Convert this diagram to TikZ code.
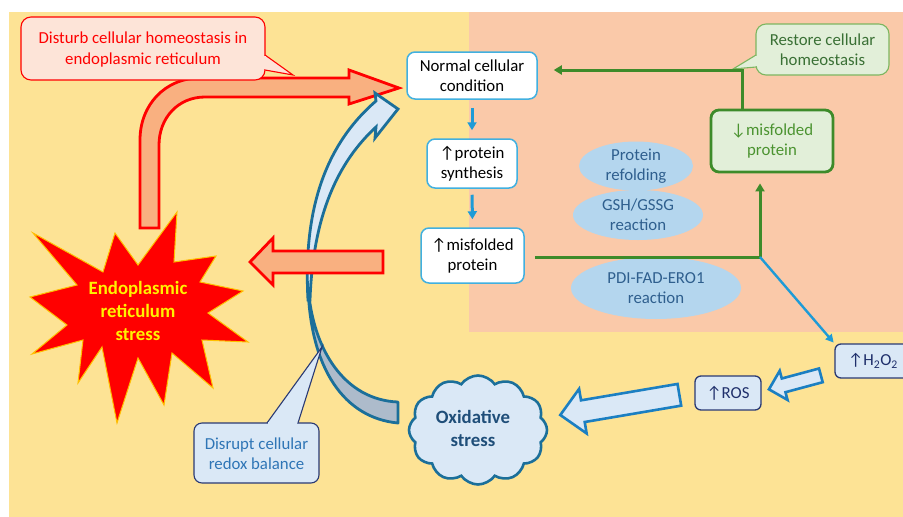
\documentclass[tikz,border=0pt]{standalone}
\usepackage{fontspec}
\setmainfont{Carlito}
\usetikzlibrary{arrows.meta,shapes.symbols,shapes.geometric,calc}
\definecolor{bgy}{HTML}{FDE395}
\definecolor{salm}{HTML}{FAC9A9}
\definecolor{orng}{HTML}{F9B080}
\definecolor{pinkf}{HTML}{FDE4D8}
\definecolor{lblue}{HTML}{DAE8F6}
\definecolor{greyb}{HTML}{ADBBCB}
\definecolor{cblue}{HTML}{1B6F9A}
\definecolor{hblue}{HTML}{1B7FC2}
\definecolor{boxb}{HTML}{41B0E0}
\definecolor{sblue}{HTML}{1E9BD7}
\definecolor{ellf}{HTML}{B4D6EE}
\definecolor{ellt}{HTML}{2F5F8E}
\definecolor{navy}{HTML}{2A3A74}
\definecolor{navyt}{HTML}{1F2F6B}
\definecolor{grn}{HTML}{3D8B2A}
\definecolor{grnf}{HTML}{E2EFD9}
\definecolor{grnt}{HTML}{4B9330}
\definecolor{grnd}{HTML}{3A7035}
\definecolor{grnl}{HTML}{7DB660}
\definecolor{starb}{HTML}{FFC000}
\definecolor{dist}{HTML}{2E75B6}
\definecolor{oxt}{HTML}{1F4E79}
\newcommand\fsz{\fontsize{16.8}{20.2}\selectfont}
\newcommand\bfsz{\fontsize{18.8}{23}\selectfont\bfseries}
\newcommand\hollowarrow[5]{%
 \coordinate (hb) at ($(#2)!#5!(#1)$);
 \filldraw[harrow] ($(#1)!#3!90:(#2)$) -- ($(hb)!#3!-90:(#1)$) -- ($(hb)!#4!-90:(#1)$) -- (#2) -- ($(hb)!#4!90:(#1)$) -- ($(hb)!#3!90:(#1)$) -- ($(#1)!#3!-90:(#2)$) -- cycle;}
\begin{document}
\begin{tikzpicture}[x=1pt,y=-1pt,
  wbox/.style={draw=boxb, fill=white, rounded corners=8pt, line width=1.5pt, align=center, inner sep=0pt, font=\fsz},
  nbox/.style={draw=navy, fill=lblue, rounded corners=6pt, line width=1.3pt, align=center, inner sep=0pt, font=\fsz, text=navyt},
  gbox/.style={draw=grn, fill=grnf, rounded corners=8pt, line width=2.8pt, align=center, inner sep=0pt, font=\fsz, text=grnt},
  ell/.style={ellipse, fill=ellf, align=center, inner sep=0pt, font=\fsz, text=ellt},
  barrow/.style={draw=sblue, line width=3pt, -{Triangle[width=9pt,length=8pt]}},
  garrow/.style={draw=grn, line width=3pt, -{Triangle[width=9pt,length=8pt]}},
  gline/.style={draw=grn, line width=3pt},
  harrow/.style={fill=lblue, draw=hblue, line width=2.6pt, line join=miter},
  txt/.style={align=center, inner sep=0pt, font=\fsz}]
\useasboundingbox (0,0) rectangle (903,517);
\clip (0,0) rectangle (903,517);
\fill[white] (0,0) rectangle (903,517);
\fill[bgy] (9,12) rectangle (903,517);
\fill[salm] (469,12) rectangle (903,332);

% red bent arrow
\filldraw[fill=orng, draw=red, line width=2.8pt, line join=miter]
 (140,228) -- (140,140) .. controls (140,105) and (165,78) .. (200,78) -- (349,78) -- (349,70) -- (399,88)
 -- (349,104) -- (349,97) -- (205,97) .. controls (178,97) and (159,118) .. (159,145) -- (159,228) -- cycle;

% red callout
\filldraw[fill=pinkf, draw=red, line width=1.1pt, rounded corners=10pt] (21,17) rectangle (265,80);
\filldraw[fill=pinkf, draw=red, line width=1.1pt, line join=miter] (265,55) -- (293,75) -- (265,70);
\fill[pinkf] (264.2,55.9) rectangle (265.9,69.1);
\node[txt, text=red] (disturb) at (143,49.5) {Disturb cellular homeostasis in\\endoplasmic reticulum};

% blue curved arrow
\filldraw[fill=greyb, draw=cblue, line width=2.8pt, line join=round]
 (398,423) .. controls (345,418) and (310,370) .. (308,285) .. controls (312,350) and (345,400) .. (398,402) -- cycle;
\filldraw[fill=lblue, draw=cblue, line width=2.8pt, line join=miter]
 (308,300) .. controls (303,210) and (325,145) .. (376,101) -- (375,93) -- (398,109) -- (375,138) -- (376,127)
 .. controls (338,162) and (313,215) .. (310,300) -- cycle;

% orange left arrow
\filldraw[fill=orng, draw=red, line width=2.8pt, line join=miter]
 (383,251) -- (273,251) -- (273,238) -- (250,262) -- (273,285) -- (273,273) -- (383,273) -- cycle;

% star
\filldraw[fill=red, draw=starb, line width=1pt, line join=miter]
 (33,233) -- (103,272) -- (115,233) -- (138,265) -- (177,212) -- (174,262) -- (216,256) -- (200,282)
 -- (243,291) -- (208,313) -- (248,342) -- (202,340) -- (213,388) -- (172,353) -- (164,405) -- (138,358)
 -- (117,423) -- (102,347) -- (78,383) -- (83,340) -- (32,354) -- (67,325) -- (30,297) -- (77,285) -- cycle;
\node[align=center, inner sep=0pt, font=\bfsz, text=yellow] (ers) at (138,311) {Endoplasmic\\reticulum\\stress};

% main boxes
\node[wbox, minimum width=130, minimum height=47] (normal) at (472,75.5) {Normal cellular\\condition};
\node[wbox, minimum width=90, minimum height=49] (synth) at (472,163.5) {↑protein\\synthesis};
\node[wbox, minimum width=103, minimum height=55] (misf) at (472.5,255.5) {↑misfolded\\protein};
\draw[barrow, shorten <=8pt, shorten >=8pt] (normal.south) -- (synth.north);
\draw[barrow, shorten <=6pt, shorten >=8pt] (synth.south) -- (misf.north);

% ellipses
\node[ell, minimum width=114, minimum height=48] (e1) at (636,166) {Protein\\refolding};
\node[ell, minimum width=130, minimum height=50] (e2) at (638,215) {GSH/GSSG\\reaction};
\node[ell, minimum width=170, minimum height=62] (e3) at (656,288) {PDI-FAD-ERO1\\reaction};

% green box & restore callout
\node[gbox, minimum width=122, minimum height=62] (dmisf) at (772,141) {↓misfolded\\protein};
\filldraw[fill=grnf, draw=grnl, line width=1.1pt, rounded corners=10pt] (756,24) rectangle (889,75);
\filldraw[fill=grnf, draw=grnl, line width=1.1pt, line join=miter] (756,55) -- (733,69) -- (756,67);
\fill[grnf] (755.2,55.9) rectangle (756.9,66.1);
\node[txt, text=grnd] (restore) at (822.5,49.5) {Restore cellular\\homeostasis};

\coordinate (J) at (760,257);
\coordinate (K) at (742,70);
\draw[gline] ($(misf.east)+(10,1.5)$) -- ([xshift=1.5pt]J);
\draw[garrow, shorten >=10pt] ([yshift=-1.5pt]J) -- (J |- dmisf.south);
\draw[gline] (dmisf.north -| K) -- ([yshift=-1.5pt]K);
\draw[garrow, shorten >=16pt] ([xshift=1.5pt]K) -- (normal.east |- K);

% H2O2, ROS
\node[nbox, minimum width=76, minimum height=34] (h2o2) at (873,361) {↑H\textsubscript{2}O\textsubscript{2}};
\node[nbox, minimum width=66, minimum height=34] (ros) at (728,393) {↑ROS};
\draw[draw=sblue, line width=2.4pt, -{Triangle[width=8pt,length=8pt]}, shorten >=1pt] (J) -- (h2o2.north west);

% cloud
\node[cloud, cloud puffs=12, cloud puff arc=110, aspect=1.3, draw=cblue, fill=lblue, line width=2.6pt,
      minimum width=138, minimum height=109, inner sep=0pt] (ox) at (478,430) {};
\node[align=center, inner sep=0pt, font=\bfsz, text=oxt] (oxt) at (473,428.5) {Oxidative\\stress};

% hollow arrows
\coordinate (t1) at ($(h2o2.south west)+(-13.5,-3.3)$);
\coordinate (p1) at ($(ros.east)+(7.3,-3.7)$);
\hollowarrow{t1}{p1}{7.1pt}{15.1pt}{15.2pt}
\coordinate (t2) at ($(ros.west)+(-15,1.8)$);
\coordinate (p2) at ($(ox.east)+(12,-15)$);
\hollowarrow{t2}{p2}{11pt}{22.6pt}{22.9pt}

% disrupt callout
\filldraw[fill=lblue, draw=navy, line width=1.1pt, rounded corners=8pt] (194,423) rectangle (319,483);
\filldraw[fill=lblue, draw=navy, line width=1.1pt, line join=miter] (267,423) -- (322,347) -- (298,423);
\fill[lblue] (267.9,422.2) rectangle (297.1,423.9);
\node[txt, text=dist] (disrupt) at (256.5,453.5) {Disrupt cellular\\redox balance};
\end{tikzpicture}
\end{document}
